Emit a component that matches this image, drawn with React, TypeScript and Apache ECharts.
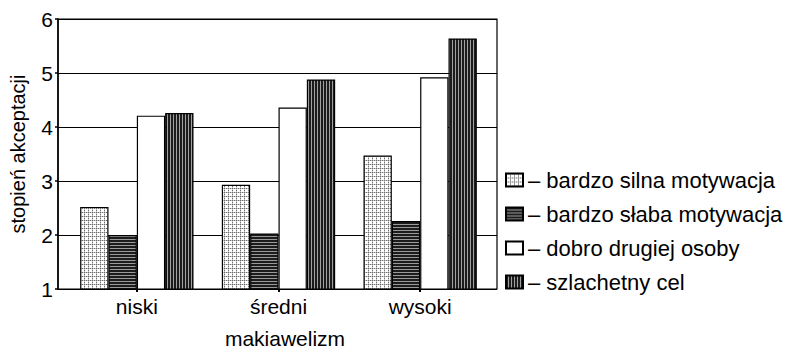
import React, { useEffect, useRef } from 'react';
import * as echarts from 'echarts';

const categories = ['niski', 'średni', 'wysoki'];
const seriesNames = [
  'bardzo silna motywacja',
  'bardzo słaba motywacja',
  'dobro drugiej osoby',
  'szlachetny cel',
];
const silnaMotywacja = [2.52, 2.93, 3.47];
const slabaMotywacja = [2.0, 2.03, 2.26];
const dobroDrugiej = [4.21, 4.36, 4.92];
const szlachetnyCel = [4.26, 4.88, 5.64];
const yTicks = [1, 2, 3, 4, 5, 6];

const FONT = '"Liberation Sans", Arial, sans-serif';

function makeTile(w: number, h: number, draw: (ctx: CanvasRenderingContext2D) => void) {
  const c = document.createElement('canvas');
  c.width = w;
  c.height = h;
  const ctx = c.getContext('2d') as CanvasRenderingContext2D;
  draw(ctx);
  return c;
}

function patterns() {
  const dotted = makeTile(4, 4, (ctx) => {
    ctx.fillStyle = '#ffffff';
    ctx.fillRect(0, 0, 4, 4);
    ctx.fillStyle = '#c4c4c4';
    ctx.fillRect(1, 0, 1, 1);
    ctx.fillRect(3, 0, 1, 1);
    ctx.fillRect(0, 1, 1, 1);
    ctx.fillRect(0, 3, 1, 1);
    ctx.fillStyle = '#6e6e6e';
    ctx.fillRect(0, 0, 1, 1);
    ctx.fillRect(2, 0, 1, 1);
    ctx.fillRect(0, 2, 1, 1);
  });
  const horiz = makeTile(4, 3, (ctx) => {
    ctx.fillStyle = '#1c1c1c';
    ctx.fillRect(0, 0, 4, 3);
    ctx.fillStyle = '#9a9a9a';
    ctx.fillRect(0, 2, 4, 1);
  });
  const vert = makeTile(3, 4, (ctx) => {
    ctx.fillStyle = '#1c1c1c';
    ctx.fillRect(0, 0, 3, 4);
    ctx.fillStyle = '#a0a0a0';
    ctx.fillRect(2, 0, 1, 4);
  });
  return [
    { image: dotted, repeat: 'repeat' },
    { image: horiz, repeat: 'repeat' },
    '#ffffff',
    { image: vert, repeat: 'repeat' },
  ];
}

export default function App() {
  const ref = useRef<HTMLDivElement>(null);

  useEffect(() => {
    if (!ref.current) return;
    const chart = echarts.init(ref.current, undefined, { renderer: 'svg' });
    const fills = patterns();
    const dataSets = [silnaMotywacja, slabaMotywacja, dobroDrugiej, szlachetnyCel];
    const yMin = yTicks[0];
    const yMax = yTicks[yTicks.length - 1];

    const option: any = {
      animation: false,
      backgroundColor: '#ffffff',
      textStyle: { fontFamily: FONT, color: '#000' },
      grid: [
        {
          left: 58, right: 289, top: 19, bottom: 62,
          show: true, borderColor: '#000', borderWidth: 1.2, backgroundColor: 'transparent',
          outerBoundsMode: 'none', containLabel: false,
        },
        {
          left: 66, right: 295, top: 19, bottom: 62,
          outerBoundsMode: 'none', containLabel: false,
        },
      ],
      legend: {
        orient: 'vertical',
        left: 500,
        top: 164,
        itemWidth: 17,
        itemHeight: 13,
        itemGap: 12,
        icon: 'rect',
        selectedMode: false,
        formatter: (n: string) => '– ' + n,
        textStyle: { fontFamily: FONT, fontSize: 22, color: '#000' },
        data: seriesNames,
      },
      xAxis: [
        {
          gridIndex: 0,
          type: 'category',
          data: categories,
          show: false,
        },
        {
          gridIndex: 1,
          type: 'category',
          data: categories,
          axisLine: { show: false },
          axisTick: { show: true, alignWithLabel: true, length: 3, lineStyle: { color: '#000', width: 2 } },
          axisLabel: { fontFamily: FONT, fontSize: 21, color: '#000', margin: 7 },
          name: 'makiawelizm',
          nameLocation: 'middle',
          nameGap: 39,
          nameTextStyle: { fontFamily: FONT, fontSize: 21, color: '#000', padding: [0, 0, 0, 13] },
        },
      ],
      yAxis: [
        {
          gridIndex: 0,
          type: 'value',
          min: yMin,
          max: yMax,
          interval: 1,
          axisLine: { show: true, lineStyle: { color: '#000', width: 1.5 } },
          axisTick: { show: true, length: 3, lineStyle: { color: '#000', width: 1.5 } },
          splitLine: { show: true, lineStyle: { color: '#000', width: 1.2 } },
          axisLabel: { fontFamily: FONT, fontSize: 21, color: '#000', margin: 5 },
          name: 'stopień akceptacji',
          nameLocation: 'middle',
          nameGap: 30,
          nameTextStyle: { fontFamily: FONT, fontSize: 20, color: '#000' },
        },
        {
          gridIndex: 1,
          type: 'value',
          min: yMin,
          max: yMax,
          interval: 1,
          show: false,
          splitLine: { show: false },
        },
      ],
      series: seriesNames.map((name, i) => ({
        name,
        type: 'bar',
        xAxisIndex: 1,
        yAxisIndex: 1,
        data: dataSets[i],
        barGap: '0%',
        barCategoryGap: '20%',
        itemStyle: { color: fills[i], borderColor: '#000', borderWidth: 1.2 },
      })),
    };

    chart.setOption(option);
    return () => chart.dispose();
  }, []);

  return (
    <div
      ref={ref}
      style={{ position: 'fixed', left: 0, top: 0, width: 786, height: 351, background: '#fff' }}
    />
  );
}
